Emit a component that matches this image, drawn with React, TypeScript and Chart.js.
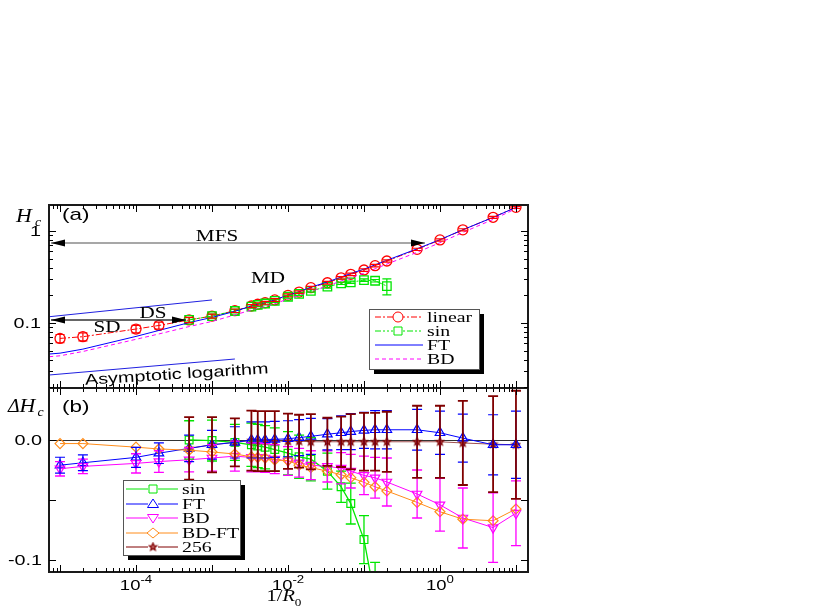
import React, { useEffect, useRef } from "react";
import { Chart, registerables } from "chart.js";
Chart.register(...registerables);

// ---------------- data ----------------
const R_INV = [1e-5, 2e-5, 1e-4, 2e-4, 5e-4, 1e-3, 2e-3, 3.3e-3, 4e-3, 5e-3, 6.7e-3, 1e-2, 1.4e-2, 2e-2, 3.3e-2, 5e-2, 6.7e-2, 0.1, 0.14, 0.2, 0.5, 1, 2, 5, 10];
const LINEAR_H = [0.068, 0.071, 0.086, 0.094, 0.108, 0.119, 0.136, 0.153, 0.16, 0.166, 0.178, 0.2, 0.217, 0.242, 0.274, 0.31, 0.338, 0.377, 0.42, 0.472, 0.632, 0.8, 1.03, 1.41, 1.81];
const LINEAR_H_ERR = [0.007, 0.007, 0.008, 0.008, 0.007, 0.006, 0.006, 0.006, 0.006, 0.006, 0.006, 0.007, 0.007, 0.008, 0.009, 0.01, 0.011, 0.012, 0.013, 0.014, 0.018, 0.022, 0.028, 0.035, 0.045];

const SIN_X = [5e-4, 1e-3, 2e-3, 3.3e-3, 4e-3, 5e-3, 6.7e-3, 1e-2, 1.4e-2, 2e-2, 3.3e-2, 5e-2, 6.7e-2, 0.1, 0.14, 0.2];
const SIN_H = [0.108, 0.119, 0.135, 0.151, 0.157, 0.163, 0.174, 0.193, 0.207, 0.224, 0.248, 0.27, 0.277, 0.293, 0.288, 0.252];
const SIN_H_ERR = [0.006, 0.006, 0.006, 0.006, 0.006, 0.006, 0.006, 0.007, 0.007, 0.007, 0.008, 0.008, 0.008, 0.009, 0.009, 0.05];

const CURVE_X = [7.2e-6, 1e-5, 2e-5, 1e-4, 2e-4, 5e-4, 1e-3, 2e-3, 3.3e-3, 4e-3, 5e-3, 6.7e-3, 1e-2, 1.4e-2, 2e-2, 3.3e-2, 5e-2, 6.7e-2, 0.1, 0.14, 0.2, 0.5, 1, 2, 5, 10, 12];
const FT_H = [0.046, 0.047, 0.052, 0.0715, 0.083, 0.101, 0.115, 0.134, 0.153, 0.16, 0.166, 0.1785, 0.201, 0.219, 0.245, 0.279, 0.316, 0.345, 0.385, 0.4285, 0.4805, 0.6405, 0.806, 1.0315, 1.406, 1.806, 2.1];
const BD_H = [0.043, 0.044, 0.049, 0.0665, 0.076, 0.0915, 0.104, 0.1225, 0.1385, 0.1455, 0.151, 0.162, 0.1825, 0.198, 0.221, 0.252, 0.2865, 0.312, 0.3475, 0.3885, 0.437, 0.587, 0.746, 0.965, 1.337, 1.749, 2.0];

const REF_UPPER_X = [7.2e-6, 1e-3];
const REF_UPPER_H = [0.117, 0.178];
const ASYM_X = [7.2e-6, 2e-3];
const ASYM_H = [0.0272, 0.0406];

const D_FT = [-0.021, -0.019, -0.0145, -0.011, -0.007, -0.004, -0.002, 0, 0, 0, 0.0005, 0.001, 0.002, 0.003, 0.0048, 0.006, 0.007, 0.008, 0.0085, 0.0085, 0.0085, 0.006, 0.0015, -0.004, -0.004];
const D_FT_ERR = [0.0066, 0.0065, 0.0083, 0.0086, 0.011, 0.012, 0.013, 0.015, 0.015, 0.015, 0.015, 0.015, 0.015, 0.015, 0.013, 0.014, 0.015, 0.015, 0.016, 0.016, 0.017, 0.018, 0.02, 0.025, 0.028];
const D_BD = [-0.024, -0.022, -0.0195, -0.018, -0.0165, -0.015, -0.0135, -0.0145, -0.0145, -0.015, -0.016, -0.0175, -0.019, -0.021, -0.022, -0.0235, -0.026, -0.0295, -0.0315, -0.035, -0.045, -0.054, -0.065, -0.073, -0.061];
const D_BD_ERR = [0.006, 0.006, 0.008, 0.009, 0.01, 0.011, 0.0125, 0.012, 0.012, 0.012, 0.012, 0.012, 0.012, 0.012, 0.013, 0.013, 0.014, 0.016, 0.017, 0.02, 0.02, 0.022, 0.025, 0.029, 0.027];
const D_BDFT = [-0.003, -0.003, -0.006, -0.0075, -0.0085, -0.01, -0.0117, -0.014, -0.0145, -0.015, -0.0167, -0.0172, -0.021, -0.023, -0.026, -0.029, -0.0314, -0.0353, -0.039, -0.0425, -0.052, -0.0598, -0.066, -0.0673, -0.0575];

const S256_X = [5e-4, 1e-3, 2e-3, 3.3e-3, 4e-3, 5e-3, 6.7e-3, 1e-2, 1.4e-2, 2e-2, 3.3e-2, 5e-2, 6.7e-2, 0.1, 0.14, 0.2, 0.5, 1, 2, 5, 10];
const D_256 = [-0.007, -0.004, -0.002, -0.0005, -0.001, -0.001, -0.001, -0.001, -0.001, -0.0015, -0.0015, -0.0015, -0.0015, -0.0015, -0.0015, -0.0015, -0.0015, -0.0015, -0.0025, -0.0035, -0.004];
const D_256_ERR = [0.026, 0.023, 0.02, 0.025, 0.025, 0.025, 0.025, 0.023, 0.022, 0.023, 0.02, 0.021, 0.023, 0.024, 0.024, 0.025, 0.03, 0.03, 0.035, 0.04, 0.045];

const D_SIN = [0.0, -0.0005, -0.002, -0.004, -0.005, -0.006, -0.008, -0.011, -0.014, -0.016, -0.026, -0.039, -0.053, -0.083, -0.132, -0.22];
const D_SIN_ERR = [0.016, 0.017, 0.015, 0.018, 0.018, 0.018, 0.018, 0.018, 0.018, 0.018, 0.015, 0.013, 0.017, 0.02, 0.03, 0.05];

// axis ranges & tick labels
const X_MIN = 7.16e-6, X_MAX = 14.4;
const H_MIN = 0.01965, H_MAX = 1.918;
const D_MIN = -0.11, D_MAX = 0.0433;
const X_LABEL_VALUES = [1e-4, 1e-2, 1];
const X_LABEL_EXPS = ["-4", "-2", "0"];
const H_TICK_VALUES = [0.1, 1];
const H_TICK_LABELS = ["0.1", "1"];
const D_TICK_VALUES = [0, -0.05, -0.1];
const D_TICK_LABELS = ["0.0", "", "-0.1"];

// ---------------- style ----------------
const RED = "#ff0000", GREEN = "#00e600", BLUE = "#0000ff", MAGENTA = "#ff00ff", ORANGE = "#ff8c1a", DARKRED = "#800000";
const SERIF = '"Liberation Serif", "DejaVu Serif", serif';
const SANS = '"Liberation Sans", "DejaVu Sans", sans-serif';
const SX = 1.32;

type Ctx = CanvasRenderingContext2D;

function txt(ctx: Ctx, s: string, x: number, y: number, font: string, align: string = "left", color = "#000", sx = SX): number {
  ctx.save();
  ctx.font = font;
  const w = ctx.measureText(s).width * sx;
  const x0 = align === "left" ? x : align === "right" ? x - w : x - w / 2;
  ctx.translate(x0, y);
  ctx.scale(sx, 1);
  ctx.fillStyle = color;
  ctx.textAlign = "left";
  ctx.textBaseline = "alphabetic";
  ctx.fillText(s, 0, 0);
  ctx.restore();
  return w;
}
function measure(ctx: Ctx, s: string, font: string, sx = SX) {
  ctx.save();
  ctx.font = font;
  const w = ctx.measureText(s).width * sx;
  ctx.restore();
  return w;
}

function makeStar(r: number): HTMLCanvasElement {
  const c = document.createElement("canvas");
  c.width = c.height = Math.ceil(2 * r + 3);
  const g = c.getContext("2d")!;
  const cx = c.width / 2, cy = c.height / 2;
  g.beginPath();
  for (let i = 0; i < 10; i++) {
    const a = -Math.PI / 2 + (i * Math.PI) / 5;
    const rr = i % 2 ? r * 0.45 : r;
    g.lineTo(cx + rr * Math.cos(a), cy + rr * Math.sin(a));
  }
  g.closePath();
  g.fillStyle = "#c06060";
  g.fill();
  g.strokeStyle = DARKRED;
  g.lineWidth = 1.2;
  g.stroke();
  return c;
}

function drawErrors(ctx: Ctx, xs: any, ys: any, X: number[], Y: number[], E: number[], color: string, lw: number, cap: number) {
  ctx.save();
  ctx.strokeStyle = color;
  ctx.lineWidth = lw;
  ctx.beginPath();
  for (let i = 0; i < X.length; i++) {
    const px = xs.getPixelForValue(X[i]);
    const lo = Math.max(Y[i] - E[i], 1e-6);
    const p1 = ys.getPixelForValue(Y[i] + E[i]);
    const p2 = ys.getPixelForValue(ys.type === "logarithmic" ? lo : Y[i] - E[i]);
    ctx.moveTo(px, p1);
    ctx.lineTo(px, p2);
    ctx.moveTo(px - cap / 2, p1);
    ctx.lineTo(px + cap / 2, p1);
    ctx.moveTo(px - cap / 2, p2);
    ctx.lineTo(px + cap / 2, p2);
  }
  ctx.stroke();
  ctx.restore();
}

function drawMarker(ctx: Ctx, kind: string, x: number, y: number, color: string, r: number, star?: HTMLCanvasElement) {
  ctx.save();
  ctx.strokeStyle = color;
  ctx.lineWidth = 1;
  ctx.beginPath();
  if (kind === "circle") ctx.arc(x, y, r, 0, Math.PI * 2);
  else if (kind === "square") ctx.rect(x - r, y - r, 2 * r, 2 * r);
  else if (kind === "triUp") { ctx.moveTo(x, y - r); ctx.lineTo(x + r * 1.1, y + r * 0.7); ctx.lineTo(x - r * 1.1, y + r * 0.7); ctx.closePath(); }
  else if (kind === "triDown") { ctx.moveTo(x, y + r); ctx.lineTo(x + r * 1.1, y - r * 0.7); ctx.lineTo(x - r * 1.1, y - r * 0.7); ctx.closePath(); }
  else if (kind === "diamond") { ctx.moveTo(x, y - r); ctx.lineTo(x + r * 1.2, y); ctx.lineTo(x, y + r); ctx.lineTo(x - r * 1.2, y); ctx.closePath(); }
  if (kind === "star" && star) ctx.drawImage(star, x - star.width / 2, y - star.height / 2);
  else ctx.stroke();
  ctx.restore();
}

function legendBox(ctx: Ctx, x: number, y: number, w: number, h: number) {
  ctx.save();
  ctx.fillStyle = "#000";
  ctx.fillRect(x + 5, y + 5, w, h);
  ctx.fillStyle = "#fff";
  ctx.fillRect(x, y, w, h);
  ctx.strokeStyle = "#555";
  ctx.lineWidth = 1;
  ctx.strokeRect(x + 0.5, y + 0.5, w, h);
  ctx.restore();
}

function arrowHead(ctx: Ctx, x: number, y: number, dir: number) {
  ctx.beginPath();
  ctx.moveTo(x, y);
  ctx.lineTo(x - dir * 14, y - 3.5);
  ctx.lineTo(x - dir * 14, y + 3.5);
  ctx.closePath();
  ctx.fill();
}

function xTicks(ctx: Ctx, xs: any, a: any) {
  ctx.save();
  ctx.strokeStyle = "#000";
  ctx.lineWidth = 1;
  ctx.beginPath();
  for (let d = -6; d <= 1; d++) {
    for (let k = 1; k <= 9; k++) {
      const v = k * Math.pow(10, d);
      if (v < xs.min * 0.999 || v > xs.max * 1.001) continue;
      const px = Math.round(xs.getPixelForValue(v)) + 0.5;
      const len = k === 1 ? 7 : 4;
      ctx.moveTo(px, a.top);
      ctx.lineTo(px, a.top + len);
      ctx.moveTo(px, a.bottom);
      ctx.lineTo(px, a.bottom - len);
    }
  }
  ctx.stroke();
  ctx.restore();
}

function frame(ctx: Ctx, a: any) {
  ctx.save();
  ctx.strokeStyle = "#1a1a1a";
  ctx.lineWidth = 2;
  ctx.strokeRect(a.left, a.top, a.right - a.left, a.bottom - a.top);
  ctx.restore();
}

// ---------------- plugins ----------------
const topDecor = {
  id: "topDecor",
  afterDatasetsDraw(chart: any) {
    const ctx: Ctx = chart.ctx, a = chart.chartArea, xs = chart.scales.x, ys = chart.scales.y;
    ctx.save();
    ctx.beginPath();
    ctx.rect(a.left, a.top, a.right - a.left, a.bottom - a.top);
    ctx.clip();
    drawErrors(ctx, xs, ys, SIN_X, SIN_H, SIN_H_ERR, GREEN, 1.2, 9);
    drawErrors(ctx, xs, ys, R_INV, LINEAR_H, LINEAR_H_ERR, RED, 1.2, 9);
    ctx.restore();
  },
  afterDraw(chart: any) {
    const ctx: Ctx = chart.ctx, a = chart.chartArea, xs = chart.scales.x, ys = chart.scales.y;
    ctx.save();
    // arrows
    ctx.fillStyle = "#000";
    ctx.strokeStyle = "#8a8a8a";
    ctx.lineWidth = 1.5;
    ctx.beginPath(); ctx.moveTo(a.left + 2, 243); ctx.lineTo(425, 243); ctx.stroke();
    arrowHead(ctx, a.left + 2, 243, -1);
    arrowHead(ctx, 425, 243, 1);
    ctx.strokeStyle = "#333";
    ctx.beginPath(); ctx.moveTo(a.left + 2, 320); ctx.lineTo(186, 320); ctx.stroke();
    arrowHead(ctx, a.left + 2, 320, -1);
    arrowHead(ctx, 186, 320, 1);
    // annotations
    txt(ctx, "MFS", 217, 241, `16px ${SERIF}`, "center");
    txt(ctx, "MD", 268, 283, `16px ${SERIF}`, "center");
    txt(ctx, "DS", 153, 318, `16px ${SERIF}`, "center");
    txt(ctx, "SD", 107, 332, `16px ${SERIF}`, "center");
    ctx.save();
    ctx.translate(177, 379);
    ctx.rotate((-3.6 * Math.PI) / 180);
    txt(ctx, "Asymptotic logarithm", 0, 0, `15px ${SANS}`, "center");
    ctx.restore();

    // legend
    legendBox(ctx, 369, 309, 110, 60);
    const rows = [317, 331, 345, 359];
    ctx.lineWidth = 1;
    ctx.strokeStyle = RED; ctx.setLineDash([6, 2, 2, 2]);
    ctx.beginPath(); ctx.moveTo(375, rows[0]); ctx.lineTo(423, rows[0]); ctx.stroke();
    ctx.strokeStyle = GREEN; ctx.setLineDash([6, 2, 2, 2, 2, 2]);
    ctx.beginPath(); ctx.moveTo(375, rows[1]); ctx.lineTo(423, rows[1]); ctx.stroke();
    ctx.strokeStyle = BLUE; ctx.setLineDash([]);
    ctx.beginPath(); ctx.moveTo(375, rows[2]); ctx.lineTo(423, rows[2]); ctx.stroke();
    ctx.strokeStyle = MAGENTA; ctx.setLineDash([4, 3]);
    ctx.beginPath(); ctx.moveTo(375, rows[3]); ctx.lineTo(423, rows[3]); ctx.stroke();
    ctx.setLineDash([]);
    ctx.fillStyle = "#fff";
    ctx.beginPath(); ctx.arc(398, rows[0], 5, 0, Math.PI * 2); ctx.fill();
    ctx.fillRect(393, rows[1] - 4, 10, 8);
    drawMarker(ctx, "circle", 398, rows[0], RED, 5);
    drawMarker(ctx, "square", 398, rows[1], GREEN, 4);
    const lf = `15px ${SERIF}`;
    txt(ctx, "linear", 427, rows[0] + 5, lf);
    txt(ctx, "sin", 427, rows[1] + 5, lf);
    txt(ctx, "FT", 427, rows[2] + 5, lf);
    txt(ctx, "BD", 427, rows[3] + 5, lf);

    // frame & ticks
    frame(ctx, a);
    xTicks(ctx, xs, a);
    ctx.strokeStyle = "#000";
    ctx.lineWidth = 1;
    ctx.beginPath();
    for (let d = -2; d <= 0; d++) {
      for (let k = 1; k <= 9; k++) {
        const v = k * Math.pow(10, d);
        if (v < ys.min || v > ys.max) continue;
        const py = Math.round(ys.getPixelForValue(v)) + 0.5;
        const len = k === 1 ? 7 : 4;
        ctx.moveTo(a.left, py); ctx.lineTo(a.left + len, py);
        ctx.moveTo(a.right, py); ctx.lineTo(a.right - len, py);
      }
    }
    ctx.stroke();
    for (let i = 0; i < H_TICK_VALUES.length; i++) {
      const py = ys.getPixelForValue(H_TICK_VALUES[i]);
      txt(ctx, H_TICK_LABELS[i], 41, py + 5, `15px ${SANS}`, "right");
    }
    // titles
    txt(ctx, "H", 16, 222, `italic 19px ${SERIF}`, "left", "#000", 1.15);
    txt(ctx, "c", 35, 226, `italic 12px ${SERIF}`, "left", "#000", 1.15);
    txt(ctx, "(a)", 62, 220, `17px ${SANS}`);
    ctx.restore();
  },
};

function makeBottomDecor(star: HTMLCanvasElement) {
  return {
    id: "bottomDecor",
    beforeDatasetsDraw(chart: any) {
      const ctx: Ctx = chart.ctx, a = chart.chartArea, ys = chart.scales.y;
      const py = Math.round(ys.getPixelForValue(0)) + 0.5;
      ctx.save();
      ctx.strokeStyle = "#333";
      ctx.lineWidth = 1;
      ctx.beginPath(); ctx.moveTo(a.left, py); ctx.lineTo(a.right, py); ctx.stroke();
      ctx.restore();
    },
    afterDatasetsDraw(chart: any) {
      const ctx: Ctx = chart.ctx, a = chart.chartArea, xs = chart.scales.x, ys = chart.scales.y;
      ctx.save();
      ctx.beginPath();
      ctx.rect(a.left, a.top, a.right - a.left, a.bottom - a.top);
      ctx.clip();
      drawErrors(ctx, xs, ys, SIN_X, D_SIN, D_SIN_ERR, GREEN, 1.3, 10);
      drawErrors(ctx, xs, ys, R_INV, D_BD, D_BD_ERR, MAGENTA, 1.3, 10);
      drawErrors(ctx, xs, ys, R_INV, D_FT, D_FT_ERR, BLUE, 1.2, 10);
      drawErrors(ctx, xs, ys, S256_X, D_256, D_256_ERR, DARKRED, 1.8, 10);
      ctx.restore();
    },
    afterDraw(chart: any) {
      const ctx: Ctx = chart.ctx, a = chart.chartArea, xs = chart.scales.x, ys = chart.scales.y;
      ctx.save();
      // legend
      legendBox(ctx, 123, 480, 117, 75);
      const rows = [489, 504, 518, 533, 547];
      const cols = [GREEN, BLUE, MAGENTA, ORANGE, DARKRED];
      const kinds = ["square", "triUp", "triDown", "diamond", "star"];
      const names = ["sin", "FT", "BD", "BD-FT", "256"];
      for (let i = 0; i < 5; i++) {
        ctx.strokeStyle = cols[i];
        ctx.lineWidth = 1;
        ctx.beginPath(); ctx.moveTo(126, rows[i]); ctx.lineTo(178, rows[i]); ctx.stroke();
        ctx.fillStyle = "#fff";
        ctx.fillRect(148, rows[i] - 4, 10, 8);
        drawMarker(ctx, kinds[i], 153, rows[i], cols[i], kinds[i] === "square" ? 4 : 5, star);
        txt(ctx, names[i], 182, rows[i] + 5, `15px ${SERIF}`);
      }
      // frame & ticks
      frame(ctx, a);
      xTicks(ctx, xs, a);
      ctx.strokeStyle = "#000";
      ctx.lineWidth = 1;
      ctx.beginPath();
      for (let i = 0; i < D_TICK_VALUES.length; i++) {
        const py = Math.round(ys.getPixelForValue(D_TICK_VALUES[i])) + 0.5;
        ctx.moveTo(a.left, py); ctx.lineTo(a.left + 7, py);
        ctx.moveTo(a.right, py); ctx.lineTo(a.right - 7, py);
      }
      ctx.stroke();
      for (let i = 0; i < D_TICK_VALUES.length; i++) {
        if (!D_TICK_LABELS[i]) continue;
        const py = ys.getPixelForValue(D_TICK_VALUES[i]);
        txt(ctx, D_TICK_LABELS[i], 42, py + 5, `15px ${SANS}`, "right");
      }
      // x tick labels
      for (let i = 0; i < X_LABEL_VALUES.length; i++) {
        const px = xs.getPixelForValue(X_LABEL_VALUES[i]);
        const f1 = `14px ${SANS}`, f2 = `10px ${SANS}`;
        const w1 = measure(ctx, "10", f1), w2 = measure(ctx, X_LABEL_EXPS[i], f2);
        const x0 = px - (w1 + w2) / 2;
        txt(ctx, "10", x0, 590, f1);
        txt(ctx, X_LABEL_EXPS[i], x0 + w1, 583, f2);
      }
      // axis title 1/R0
      {
        const f1 = `17px ${SERIF}`, f2 = `italic 17px ${SERIF}`, f3 = `11px ${SERIF}`;
        const sx = 1.2;
        const w1 = measure(ctx, "1/", f1, sx), w2 = measure(ctx, "R", f2, sx), w3 = measure(ctx, "0", f3, sx);
        const x0 = 284 - (w1 + w2 + w3) / 2;
        txt(ctx, "1/", x0, 601, f1, "left", "#000", sx);
        txt(ctx, "R", x0 + w1, 601, f2, "left", "#000", sx);
        txt(ctx, "0", x0 + w1 + w2, 606, f3, "left", "#000", sx);
      }
      // titles
      const wD = txt(ctx, "\u0394", 8, 412, `italic 18px ${SERIF}`, "left", "#000", 1.1);
      txt(ctx, "H", 8 + wD, 412, `italic 19px ${SERIF}`, "left", "#000", 1.15);
      txt(ctx, "c", 8 + wD + 18, 416, `italic 12px ${SERIF}`, "left", "#000", 1.15);
      txt(ctx, "(b)", 62, 412, `17px ${SANS}`);
      ctx.restore();
    },
  };
}

const pts = (X: number[], Y: number[]) => X.map((x, i) => ({ x, y: Y[i] }));

export default function App() {
  const topRef = useRef<HTMLCanvasElement>(null);
  const botRef = useRef<HTMLCanvasElement>(null);

  useEffect(() => {
    const star = makeStar(4);
    const common = (padding: any, yType: string, yMin: number, yMax: number) => ({
      responsive: false,
      animation: false as const,
      devicePixelRatio: 1,
      events: [],
      layout: { padding },
      plugins: { legend: { display: false }, tooltip: { enabled: false } },
      elements: { line: { tension: 0 } },
      scales: {
        x: { type: "logarithmic", min: X_MIN, max: X_MAX, display: false, bounds: "data" },
        y: { type: yType, min: yMin, max: yMax, display: false, bounds: "data" },
      },
    });

    const top = new Chart(topRef.current!, {
      type: "scatter",
      data: {
        datasets: [
          { data: pts(REF_UPPER_X, REF_UPPER_H), showLine: true, borderColor: "#2020e0", borderWidth: 1, pointRadius: 0 },
          { data: pts(ASYM_X, ASYM_H), showLine: true, borderColor: "#2020e0", borderWidth: 1, pointRadius: 0 },
          { data: pts(CURVE_X, BD_H), showLine: true, borderColor: MAGENTA, borderWidth: 1, borderDash: [4, 3], pointRadius: 0 },
          { data: pts(CURVE_X, FT_H), showLine: true, borderColor: BLUE, borderWidth: 1, pointRadius: 0 },
          {
            data: pts(SIN_X, SIN_H), showLine: true, borderColor: GREEN, borderWidth: 1, borderDash: [6, 2, 2, 2, 2, 2],
            pointStyle: "rect", pointRadius: 6, pointBorderColor: GREEN, pointBackgroundColor: "rgba(0,0,0,0)", pointBorderWidth: 1.3,
          },
          {
            data: pts(R_INV, LINEAR_H), showLine: true, borderColor: RED, borderWidth: 1, borderDash: [6, 2, 2, 2],
            pointStyle: "circle", pointRadius: 5, pointBorderColor: RED, pointBackgroundColor: "rgba(0,0,0,0)", pointBorderWidth: 1.3,
          },
        ],
      },
      options: common({ left: 49, top: 205, right: 302, bottom: 222 }, "logarithmic", H_MIN, H_MAX) as any,
      plugins: [topDecor],
    });

    const bottom = new Chart(botRef.current!, {
      type: "scatter",
      data: {
        datasets: [
          {
            data: pts(R_INV, D_BDFT), showLine: true, borderColor: ORANGE, borderWidth: 1,
            pointStyle: "rectRot", pointRadius: 5, pointBorderColor: ORANGE, pointBackgroundColor: "rgba(0,0,0,0)", pointBorderWidth: 1.2,
          },
          {
            data: pts(R_INV, D_BD), showLine: true, borderColor: MAGENTA, borderWidth: 1,
            pointStyle: "triangle", pointRotation: 180, pointRadius: 5.5, pointBorderColor: MAGENTA, pointBackgroundColor: "rgba(0,0,0,0)", pointBorderWidth: 1.2,
          },
          {
            data: pts(R_INV, D_FT), showLine: true, borderColor: BLUE, borderWidth: 1,
            pointStyle: "triangle", pointRadius: 5.5, pointBorderColor: BLUE, pointBackgroundColor: "rgba(0,0,0,0)", pointBorderWidth: 1.2,
          },
          {
            data: pts(SIN_X, D_SIN), showLine: true, borderColor: GREEN, borderWidth: 1.3,
            pointStyle: "rect", pointRadius: 5.5, pointBorderColor: GREEN, pointBackgroundColor: "rgba(0,0,0,0)", pointBorderWidth: 1.2,
          },
          {
            data: pts(S256_X, D_256), showLine: true, borderColor: "#a05050", borderWidth: 1,
            pointStyle: star, pointRadius: 5,
          },
        ],
      },
      options: common({ left: 49, top: 388, right: 302, bottom: 38 }, "linear", D_MIN, D_MAX) as any,
      plugins: [makeBottomDecor(star)],
    });

    return () => {
      top.destroy();
      bottom.destroy();
    };
  }, []);

  return (
    <div style={{ position: "absolute", left: 0, top: 0, width: 830, height: 610, background: "#fff" }}>
      <canvas ref={botRef} width={830} height={610} style={{ position: "absolute", left: 0, top: 0 }} />
      <canvas ref={topRef} width={830} height={610} style={{ position: "absolute", left: 0, top: 0 }} />
    </div>
  );
}
